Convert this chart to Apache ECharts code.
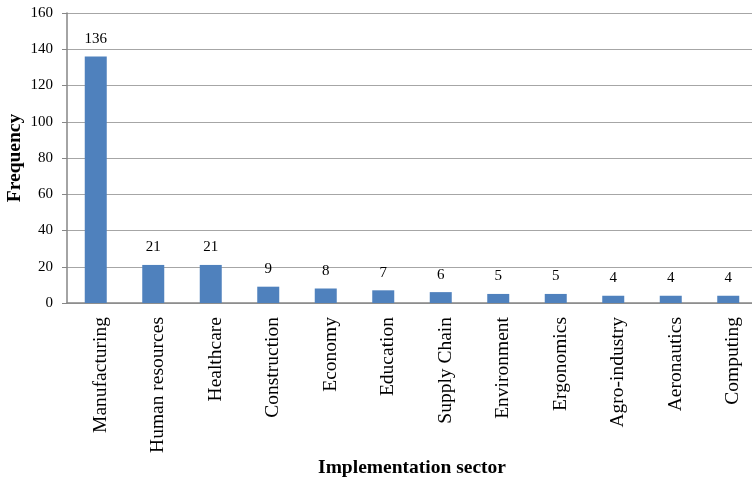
<!DOCTYPE html>
<html>
<head>
<meta charset="utf-8">
<script src="https://cdn.jsdelivr.net/npm/echarts@6/dist/echarts.min.js"></script>
<style>
  html, body { margin: 0; padding: 0; background: #ffffff; }
  #chart { width: 752px; height: 485px; }
</style>
</head>
<body>
<div id="chart"></div>
<script>
// Implementation sectors and how often each appears
const sectors = ['Manufacturing', 'Human resources', 'Healthcare', 'Construction', 'Economy',
  'Education', 'Supply Chain', 'Environment', 'Ergonomics', 'Agro-industry', 'Aeronautics', 'Computing'];
const frequency = [136, 21, 21, 9, 8, 7, 6, 5, 5, 4, 4, 4];
const yTicks = [0, 20, 40, 60, 80, 100, 120, 140, 160];

const serif = '"Liberation Serif", "Times New Roman", serif';
const chart = echarts.init(document.getElementById('chart'), null, { renderer: 'canvas' });

chart.setOption({
  animation: false,
  backgroundColor: '#ffffff',
  grid: { left: 67, right: -5, top: 13, bottom: 182, containLabel: false, outerBoundsMode: 'none' },
  xAxis: {
    type: 'category',
    data: sectors,
    name: 'Implementation sector',
    nameLocation: 'middle',
    nameGap: 155,
    nameMoveOverlap: false,
    nameTextStyle: { fontFamily: serif, fontSize: 19.5, fontWeight: 'bold', color: '#000' },
    axisLine: { lineStyle: { color: '#868686', width: 1.5 } },
    axisTick: { show: false },
    axisLabel: {
      rotate: 90,
      interval: 0,
      margin: 14,
      verticalAlign: 'top',
      lineHeight: 10,
      fontFamily: serif,
      fontSize: 19.5,
      color: '#000'
    }
  },
  yAxis: {
    type: 'value',
    min: yTicks[0],
    max: yTicks[yTicks.length - 1],
    interval: yTicks[1] - yTicks[0],
    name: 'Frequency',
    nameLocation: 'middle',
    nameGap: 42,
    nameMoveOverlap: false,
    nameTextStyle: { fontFamily: serif, fontSize: 19.5, fontWeight: 'bold', color: '#000' },
    axisLine: { show: true, lineStyle: { color: '#868686', width: 1.5 } },
    axisTick: { show: true, length: 5, lineStyle: { color: '#868686' } },
    axisLabel: { margin: 14, fontFamily: serif, fontSize: 15, color: '#000' },
    splitLine: { lineStyle: { color: '#a6a6a6', width: 1.2 } }
  },
  series: [{
    type: 'bar',
    data: frequency,
    barWidth: 22,
    itemStyle: { color: '#4f81bd' },
    label: {
      show: true,
      position: 'top',
      distance: 10,
      fontFamily: serif,
      fontSize: 15,
      color: '#000'
    }
  }]
});
</script>
</body>
</html>
